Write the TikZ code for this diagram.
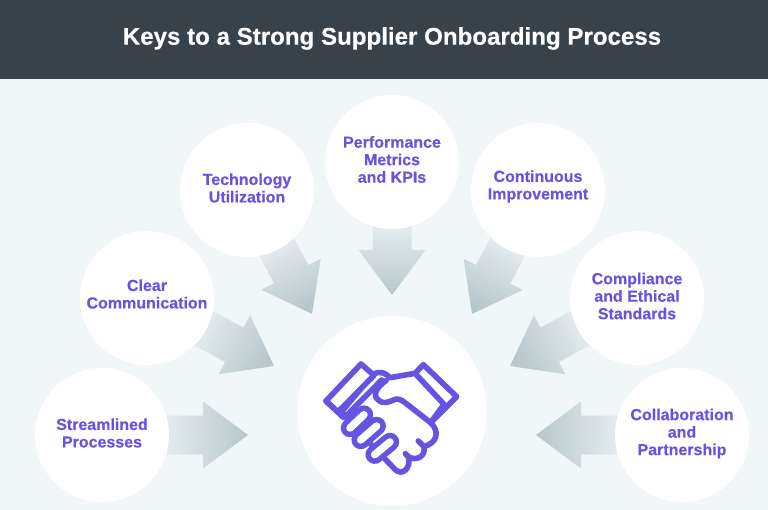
\documentclass[tikz,border=0pt]{standalone}
\usepackage{fontspec}
\setmainfont[BoldFeatures={FakeBold=0.35}]{Liberation Sans}
\definecolor{bandc}{HTML}{37424B}
\definecolor{bgc}{HTML}{F1F6F8}
\definecolor{inkc}{HTML}{6653E2}
\definecolor{arrowlight}{HTML}{E6EEF0}
\definecolor{arrowdark}{HTML}{B8C7CC}
\tikzset{
  keycircle/.style={circle,fill=white,minimum size=134pt,inner sep=0pt},
  keylabel/.style={inner sep=0pt,align=center,text=inkc,
    font=\fontsize{16}{17.5}\selectfont\bfseries},
  hubcircle/.style={circle,fill=white,minimum size=190pt,inner sep=0pt},
  iconline/.style={draw=inkc,line width=5.6pt,line join=round,line cap=round},
  iconfill/.style={iconline,fill=white},
}
\newcommand{\blockarrow}[3]{%
  \pgfmathanglebetweenpoints{\pgfpointanchor{#1}{center}}{\pgfpointanchor{#2}{center}}%
  \pgfmathsetmacro{\arrang}{\pgfmathresult}%
  \pgfmathsetmacro{\shadang}{\arrang-90}%
  \begin{scope}[shift={(#2)},rotate=\arrang,x=1pt,y=1pt]
    \path[bottom color=arrowlight,top color=arrowdark,shading angle=\shadang]
      (0,0) -- (-45,33.5) -- (-45,19.5) -- (-#3,19.5) -- (-#3,-19.5) -- (-45,-19.5) -- (-45,-33.5) -- cycle;
  \end{scope}}
\begin{document}
\begin{tikzpicture}[x=1pt,y=-1pt]
\useasboundingbox (0,0) rectangle (768,510);
\fill[bgc] (0,0) rectangle (768,510);
\fill[bandc] (0,0) rectangle (768,79);
\node[text=white,font=\fontsize{24.1}{28}\selectfont\bfseries] (title) at (392,38.5) {Keys to a Strong Supplier Onboarding Process};

\coordinate (t1) at (248,435);
\coordinate (t2) at (274,366);
\coordinate (t3) at (312,314);
\coordinate (t4) at (392,295);
\coordinate (t5) at (472,314);
\coordinate (t6) at (510,366);
\coordinate (t7) at (536,435);
\coordinate (c1) at (102,435);
\coordinate (c2) at (147,298);
\coordinate (c3) at (247,190);
\coordinate (c4) at (392,162);
\coordinate (c5) at (538,190);
\coordinate (c6) at (637,298);
\coordinate (c7) at (682,435);

\blockarrow{c1}{t1}{86}
\blockarrow{c2}{t2}{84}
\blockarrow{c3}{t3}{80}
\blockarrow{c4}{t4}{73}
\blockarrow{c5}{t5}{80}
\blockarrow{c6}{t6}{84}
\blockarrow{c7}{t7}{86}

\node[keycircle] (n1) at (c1) {};
\node[keycircle] (n2) at (c2) {};
\node[keycircle] (n3) at (c3) {};
\node[keycircle] (n4) at (c4) {};
\node[keycircle] (n5) at (c5) {};
\node[keycircle] (n6) at (c6) {};
\node[keycircle] (n7) at (c7) {};
\node[hubcircle] (hub) at (392,411) {};

\node[keylabel] (l1) at (102,433) {Streamlined\\Processes};
\node[keylabel] (l2) at (147,294) {Clear\\Communication};
\node[keylabel] (l3) at (247,188) {Technology\\Utilization};
\node[keylabel] (l4) at (392,159.5) {Performance\\Metrics\\and KPIs};
\node[keylabel] (l5) at (538,186.5) {Continuous\\Improvement};
\node[keylabel] (l6) at (637,296) {Compliance\\and Ethical\\Standards};
\node[keylabel] (l7) at (682,433.5) {Collaboration\\and\\Partnership};

\begin{scope}[shift={(300,340)},x=0.3333pt,y=-0.3333pt]
  % palm with thumb-side outline and lower fingers
  \path[iconfill] (218,104) .. controls (240,90) and (258,100) .. (270,113)
     -- (345,100) -- (432,193) -- (392,248)
     .. controls (420,275) and (412,308) .. (372,320)
     .. controls (378,348) and (350,365) .. (325,350)
     .. controls (335,385) and (305,410) .. (285,388) -- (200,300) -- (125,215) -- cycle;
  % left cuff
  \path[iconfill] (78,183) -- (183,72) -- (222,106) -- (114,216) -- cycle;
  \path[iconline] (78,183) -- (130,232);
  % right cuff
  \path[iconline] (345,100) -- (370,74) -- (470,170) -- (392,248);
  % thumb
  \path[iconline] (258,122) .. controls (232,140) and (215,165) .. (235,180)
     .. controls (250,195) and (270,185) .. (285,178) .. controls (295,175) and (305,180) .. (315,188) -- (392,248);
  \path[iconline] (372,320) -- (355,303);
  \path[iconline] (325,350) -- (316,341);
  \path[iconline] (142,224) -- (245,120);
  % fingers
  \foreach \ax/\ay/\bx/\by in {150/264/192/224, 182/300/230/258, 224/344/270/306}{
    \draw[inkc,line width=18.5pt,line cap=round] (\ax,\ay) -- (\bx,\by);
    \draw[white,line width=7.5pt,line cap=round] (\ax,\ay) -- (\bx,\by);
  }
\end{scope}
\end{tikzpicture}
\end{document}
